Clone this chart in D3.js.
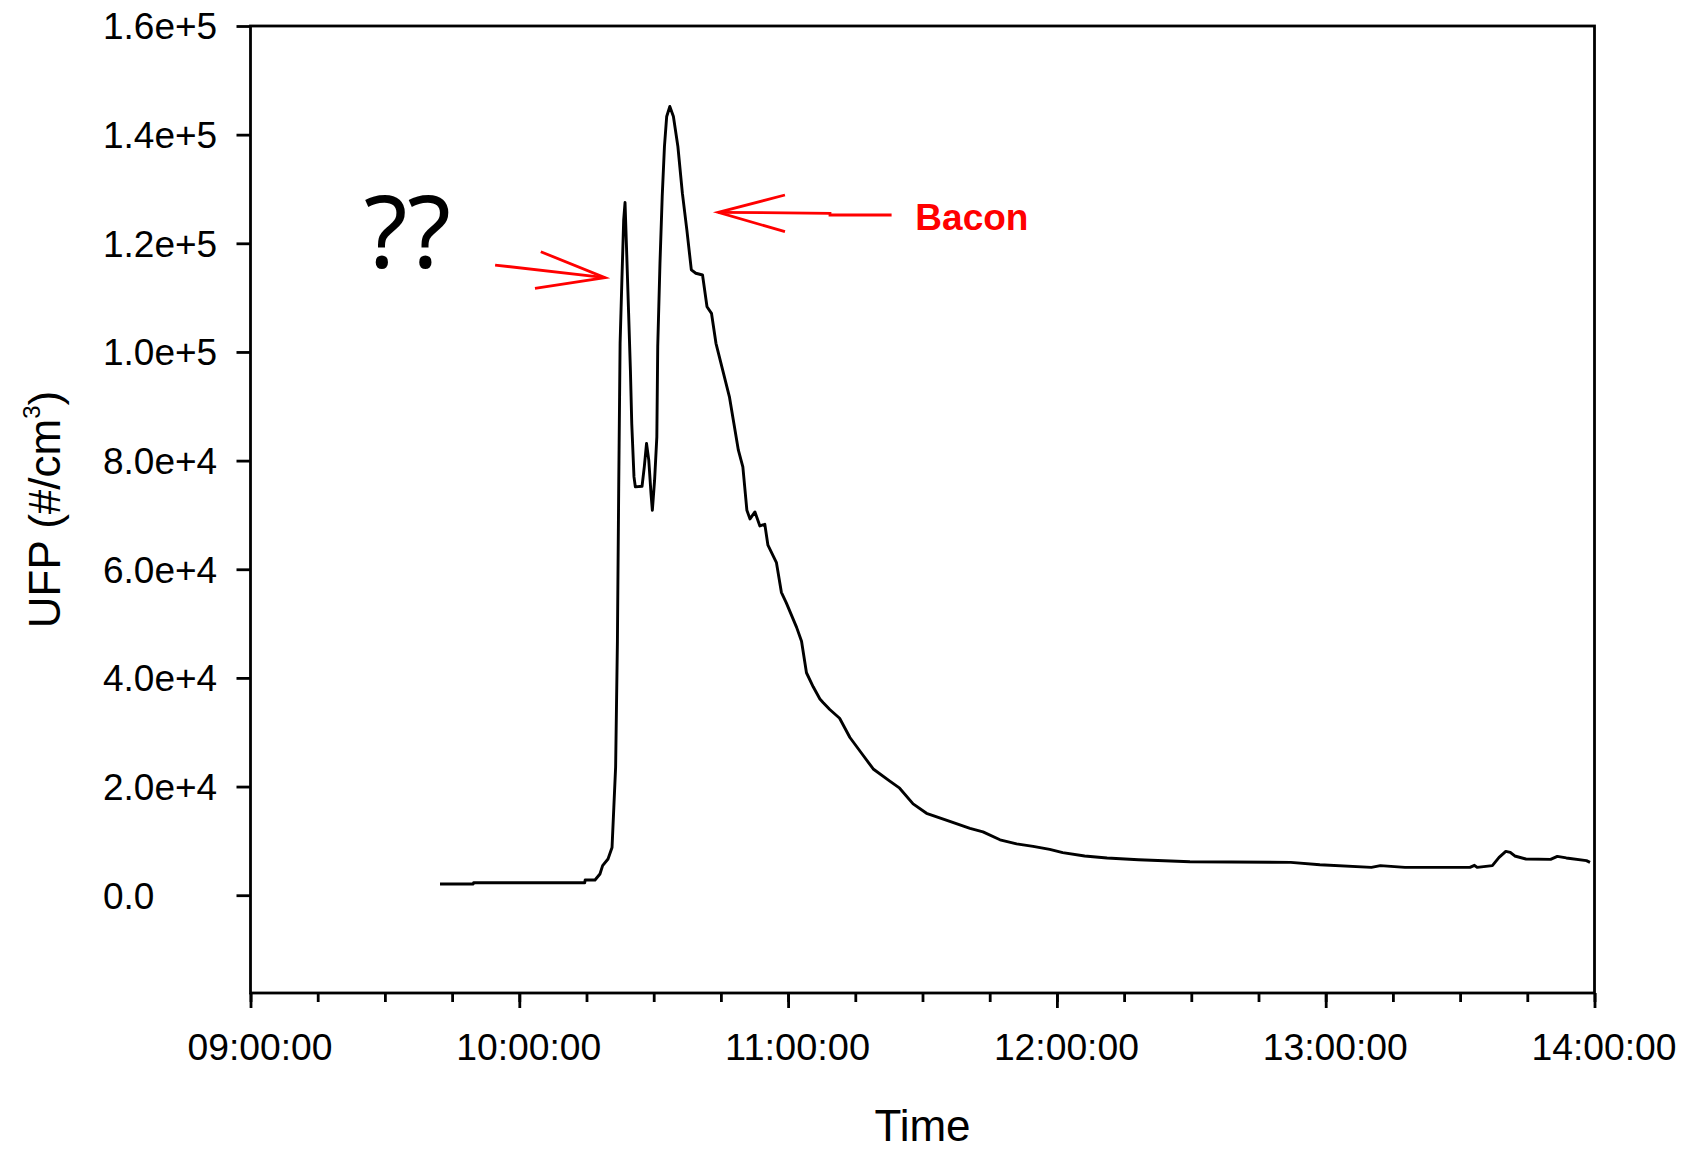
<!DOCTYPE html>
<html>
<head>
<meta charset="utf-8">
<script src="https://cdn.jsdelivr.net/npm/d3@7"></script>
<style>
  html, body { margin: 0; padding: 0; background: #fff; }
  svg { display: block; }
</style>
</head>
<body>
<svg id="chart" width="1702" height="1151"></svg>
<script>
// ---- data ----
const times = [
  "09:42:18","09:49:42","09:49:48","10:14:36","10:14:42","10:16:54","10:18:00","10:18:36","10:19:48","10:20:42",
  "10:21:06","10:21:30","10:21:54","10:22:12","10:22:30","10:22:54","10:23:18","10:23:36","10:23:57","10:24:24",
  "10:24:48","10:25:06","10:25:36","10:25:54","10:27:24","10:27:54","10:28:24","10:28:54","10:29:24","10:29:42",
  "10:30:12","10:30:42","10:30:54","10:31:24","10:31:54","10:32:24","10:32:54","10:33:36","10:34:24","10:35:24",
  "10:36:24","10:37:24","10:38:24","10:39:24","10:40:54","10:41:54","10:42:54","10:43:54","10:45:24","10:46:54",
  "10:47:54","10:48:54","10:49:54","10:50:48","10:51:30","10:52:36","10:53:42","10:54:48","10:55:30","10:57:24",
  "10:58:30","10:59:36","11:01:54","11:03:00","11:04:06","11:05:36","11:07:06","11:07:48","11:09:18","11:11:30",
  "11:13:48","11:16:24","11:19:00","11:22:42","11:24:54","11:27:54","11:30:54","11:36:06","11:40:36","11:43:30",
  "11:47:18","11:51:00","11:54:42","11:58:24","12:01:18","12:06:12","12:11:12","12:18:12","12:29:42","12:52:12",
  "12:58:42","13:10:12","13:12:12","13:17:42","13:32:12","13:33:12","13:33:48","13:37:12","13:38:42","13:40:12",
  "13:41:12","13:42:12","13:44:42","13:50:12","13:51:42","13:53:42","13:58:12","13:59:00"
];
const ufp = [
  2060, 2060, 2300, 2300, 2800, 2800, 3900, 5440, 6670, 8800,
  16160, 23570, 46700, 76000, 101590, 113250, 124310, 127500, 118780, 107170,
  96670, 86840, 77000, 75160, 75280, 78840, 83150, 80080, 73940, 70860,
  76390, 84370, 100960, 116330, 128610, 137820, 143350, 145190, 143350, 137820,
  129230, 122470, 115100, 114490, 114170, 108330, 107110, 101590, 96670, 91740,
  86840, 81920, 78840, 70860, 69260, 70550, 67970, 68280, 64430, 61200,
  55750, 53820, 49300, 46740, 40950, 38370, 36120, 35480, 34190, 32580,
  29030, 26130, 23240, 20990, 19700, 16810, 15080, 13600, 12310, 11670,
  10200, 9450, 9000, 8440, 7830, 7220, 6860, 6540, 6170, 6050,
  5620, 5120, 5440, 5120, 5120, 5500, 5120, 5440, 6970, 8070,
  7890, 7220, 6670, 6600, 7150, 6860, 6360, 6050
];
const xDomain = ["09:00:00", "14:00:00"];
const yDomain = [-18000, 160000];
const yTickValues = [0, 20000, 40000, 60000, 80000, 100000, 120000, 140000, 160000];
const xTitle = "Time";
const yTitle = ["UFP (#/cm", "3", ")"];

// annotations (placed in data coordinates)
const qText = { label: "??", time: "09:25:20", value: 115400 };
const qArrow = [
  [["09:54:36", 116000], ["10:19:08", 113670]],
  [["10:04:48", 118450], ["10:19:08", 113670], ["10:03:30", 111720]]
];
const baconText = { label: "Bacon", time: "11:28:24", value: 122540 };
const baconArrow = [
  [["11:23:06", 125210], ["11:09:21", 125210], ["11:09:21", 125520], ["10:44:24", 125710]],
  [["10:59:18", 128890], ["10:44:24", 125710], ["10:59:18", 122140]]
];

// ---- chart ----
const FONT = "'Liberation Sans', Arial, sans-serif";
const parse = d3.timeParse("%H:%M:%S");
const svg = d3.select("#chart");
const m = { left: 250.5, top: 26, right: 1594.5, bottom: 993 };

const x = d3.scaleTime().domain(xDomain.map(parse)).range([m.left, m.right]);
const y = d3.scaleLinear().domain(yDomain).range([m.bottom, m.top]);

const data = times.map((t, i) => ({ t: parse(t), v: ufp[i] }));

// minor x ticks
svg.append("g")
  .attr("transform", `translate(0,${m.bottom})`)
  .call(d3.axisBottom(x).ticks(d3.timeMinute.every(15)).tickSize(9).tickFormat(""))
  .call(g => g.select(".domain").remove())
  .call(g => g.selectAll("line").attr("stroke", "#000").attr("stroke-width", 2.8));

// major x ticks
svg.append("g")
  .attr("transform", `translate(0,${m.bottom})`)
  .call(d3.axisBottom(x).ticks(d3.timeHour.every(1)).tickSize(15).tickFormat(d3.timeFormat("%H:%M:%S")))
  .call(g => g.select(".domain").remove())
  .call(g => g.selectAll("line").attr("stroke", "#000").attr("stroke-width", 2.8))
  .call(g => g.selectAll("text")
    .attr("y", 67).attr("dy", 0).attr("dx", 9)
    .attr("textLength", 145).attr("lengthAdjust", "spacingAndGlyphs")
    .style("font-size", "36px")
    .style("font-family", FONT)
    .style("fill", "#000"));

// y ticks
const yFmt = v => v === 0 ? "0.0" : d3.format(".1e")(v);
svg.append("g")
  .attr("transform", `translate(${m.left},0)`)
  .call(d3.axisLeft(y).tickValues(yTickValues).tickSize(14).tickFormat(yFmt))
  .call(g => g.select(".domain").remove())
  .call(g => g.selectAll("line").attr("stroke", "#000").attr("stroke-width", 2.8))
  .call(g => g.selectAll("text")
    .attr("x", 103 - m.left)
    .attr("dy", "0.35em")
    .attr("text-anchor", "start")
    .style("font-size", "37px")
    .style("font-family", FONT)
    .style("fill", "#000"));

// frame
svg.append("rect")
  .attr("x", m.left).attr("y", m.top)
  .attr("width", m.right - m.left).attr("height", m.bottom - m.top)
  .attr("fill", "none").attr("stroke", "#000").attr("stroke-width", 2.8);

// data line
const line = d3.line().x(d => x(d.t)).y(d => y(d.v));
svg.append("path")
  .datum(data)
  .attr("d", line)
  .attr("fill", "none")
  .attr("stroke", "#000")
  .attr("stroke-width", 2.9)
  .attr("stroke-linejoin", "round");

// axis titles
svg.append("text")
  .attr("x", (m.left + m.right) / 2).attr("y", 1141)
  .attr("text-anchor", "middle")
  .style("font-family", FONT)
  .style("font-size", "44px")
  .text(xTitle);

const yt = svg.append("text")
  .attr("transform", `translate(60,${(m.top + m.bottom) / 2}) rotate(-90)`)
  .attr("text-anchor", "middle")
  .style("font-family", FONT)
  .style("font-size", "44px");
yt.append("tspan").text(yTitle[0]);
yt.append("tspan").style("font-size", "24px").attr("dy", -20).text(yTitle[1]);
yt.append("tspan").attr("dy", 20).text(yTitle[2]);

// annotations
const pt = p => [x(parse(p[0])), y(p[1])];
const poly = d3.line();

svg.append("text")
  .attr("x", x(parse(qText.time))).attr("y", y(qText.value))
  .style("font-family", "'Noto Sans', 'Open Sans', sans-serif")
  .style("font-size", "100px")
  .style("fill", "#000")
  .text(qText.label);

svg.append("text")
  .attr("x", x(parse(baconText.time))).attr("y", y(baconText.value))
  .style("font-family", FONT)
  .style("font-size", "37px")
  .style("font-weight", "bold")
  .style("fill", "#f00")
  .text(baconText.label);

[...qArrow, ...baconArrow].forEach(seg => {
  svg.append("path")
    .attr("d", poly(seg.map(pt)))
    .attr("fill", "none")
    .attr("stroke", "#f00")
    .attr("stroke-width", 2.8)
    .attr("stroke-linejoin", "miter");
});
</script>
</body>
</html>
